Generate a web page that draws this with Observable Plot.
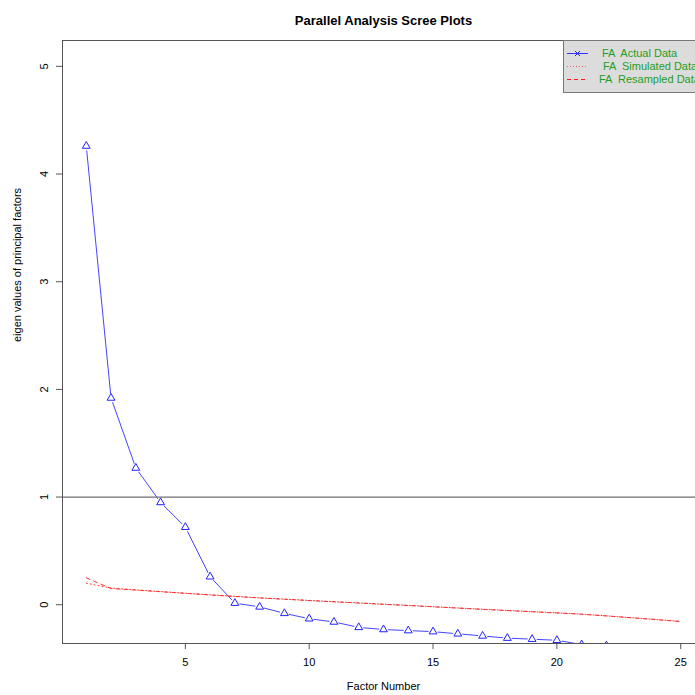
<!DOCTYPE html>
<html>
<head>
<meta charset="utf-8">
<script src="https://cdn.jsdelivr.net/npm/d3@7"></script>
<script src="https://cdn.jsdelivr.net/npm/@observablehq/plot@0.6"></script>
<style>
  html, body { margin: 0; padding: 0; background: #fff; overflow: hidden; width: 695px; height: 695px; }
  #wrap { position: relative; width: 720px; height: 695px; font-family: "Liberation Sans", Arial, sans-serif; }
  #legend { position: absolute; left: 563px; top: 40px; }
  #legend text { white-space: pre; }
</style>
</head>
<body>
<div id="wrap"><div id="chart"></div><div id="legend"></div></div>
<script>
const title = "Parallel Analysis Scree Plots";
const xLabel = "Factor Number";
const yLabel = "eigen values of principal factors";
const factors = [1,2,3,4,5,6,7,8,9,10,11,12,13,14,15,16,17,18,19,20,21,22,23,24,25];
const actualFactors = [1,2,3,4,5,6,7,8,9,10,11,12,13,14,15,16,17,18,19,20,21,22];
const actual = [4.26, 1.92, 1.27, 0.95, 0.72, 0.26, 0.015, -0.02, -0.08, -0.13, -0.16, -0.21, -0.23, -0.24, -0.25, -0.27, -0.29, -0.31, -0.32, -0.33, -0.37, -0.38];
const simulated = [0.20, 0.155, 0.138, 0.122, 0.107, 0.092, 0.078, 0.064, 0.052, 0.040, 0.028, 0.017, 0.005, -0.006, -0.018, -0.030, -0.042, -0.053, -0.064, -0.075, -0.087, -0.103, -0.120, -0.137, -0.155];
const resampled = [0.25, 0.150, 0.136, 0.121, 0.106, 0.091, 0.077, 0.063, 0.051, 0.039, 0.027, 0.016, 0.004, -0.007, -0.019, -0.031, -0.043, -0.054, -0.065, -0.076, -0.088, -0.104, -0.121, -0.138, -0.156];
const xTicks = [5, 10, 15, 20, 25];
const yTicks = [0, 1, 2, 3, 4, 5];
const refLine = [1];
const legendLabels = ["FA  Actual Data", "FA  Simulated Data", "FA  Resampled Data"];

const actualData = actualFactors.map((f, i) => ({f, v: actual[i]}));
const simData = factors.map((f, i) => ({f, v: simulated[i]}));
const resData = factors.map((f, i) => ({f, v: resampled[i]}));

const font = "Liberation Sans, Arial, sans-serif";

const plot = Plot.plot({
  width: 720,
  height: 695,
  marginLeft: 62,
  marginRight: 16,
  marginTop: 40,
  marginBottom: 52,
  style: {fontFamily: font, fontSize: "11px", color: "#000", background: "#fff"},
  x: {domain: [0.04, 25.96]},
  y: {domain: [-0.36, 5.24]},
  marks: [
    Plot.line(actualData, {x: "f", y: "v", stroke: "#4444ff", strokeWidth: 1, clip: true}),
    Plot.dot(actualData, {x: "f", y: "v", r: 4.6, fill: "#fff", stroke: null, clip: true}),
    Plot.ruleY(refLine, {stroke: "#707070", strokeWidth: 1.2}),
    Plot.line(simData, {x: "f", y: "v", stroke: "#ff3030", strokeWidth: 1, strokeDasharray: "1,3", clip: true}),
    Plot.line(resData, {x: "f", y: "v", stroke: "#ff3030", strokeWidth: 1, strokeDasharray: "4,4", clip: true}),
    Plot.dot(actualData, {x: "f", y: "v", symbol: "triangle", r: 2.9, fill: "none", stroke: "#2222ff", strokeWidth: 1, clip: true}),
    Plot.frame({stroke: "#555", strokeWidth: 1}),
    Plot.axisX({ticks: xTicks, tickSize: 6, tickPadding: 9, tickFormat: d3.format("d"), label: null, fontSize: 11, stroke: "#555"}),
    Plot.axisY({ticks: yTicks, tickSize: 6, tickPadding: 9, tickRotate: -90, tickFormat: d3.format("d"), label: null, fontSize: 11, stroke: "#555"}),
    Plot.text([title], {frameAnchor: "top", dy: -25, fontWeight: "bold", fontSize: 13, fill: "#000"}),
    Plot.text([xLabel], {frameAnchor: "bottom", dy: 46, fontSize: 11, fill: "#000"}),
    Plot.text([yLabel], {frameAnchor: "left", dx: -45, rotate: -90, fontSize: 11, fill: "#000"})
  ]
});
document.getElementById("chart").appendChild(plot);

// Legend (top-right, like R's legend box)
const lg = d3.select("#legend").append("svg")
  .attr("width", 145).attr("height", 54)
  .style("display", "block")
  .style("font-family", font);
lg.append("rect").attr("x", 0.5).attr("y", 0.5).attr("width", 141).attr("height", 52)
  .attr("fill", "#dcdcdc").attr("stroke", "#777");
const rowsY = [13.5, 26.5, 39.5];
const textX = [39, 40, 36];
const lineStyles = [
  {stroke: "#3333ff", dash: null},
  {stroke: "#ff6060", dash: "1,2"},
  {stroke: "#ff1a1a", dash: "4,3"}
];
legendLabels.forEach((lab, i) => {
  const y = rowsY[i];
  lg.append("line").attr("x1", 4).attr("x2", 25).attr("y1", y).attr("y2", y)
    .style("stroke", lineStyles[i].stroke).style("stroke-width", 1)
    .style("stroke-dasharray", lineStyles[i].dash);
  lg.append("text").attr("x", textX[i]).attr("y", y).attr("dy", "0.35em")
    .attr("font-size", 11).attr("fill", "#1f9e1f")
    .attr("xml:space", "preserve").text(lab);
});
// "x" marker on the actual data legend line
const mx = 14.5, my = rowsY[0];
lg.append("path").attr("d", `M${mx-2.5},${my-2.5}L${mx+2.5},${my+2.5}M${mx-2.5},${my+2.5}L${mx+2.5},${my-2.5}`)
  .attr("stroke", "#2222ff").attr("stroke-width", 1);
</script>
</body>
</html>
